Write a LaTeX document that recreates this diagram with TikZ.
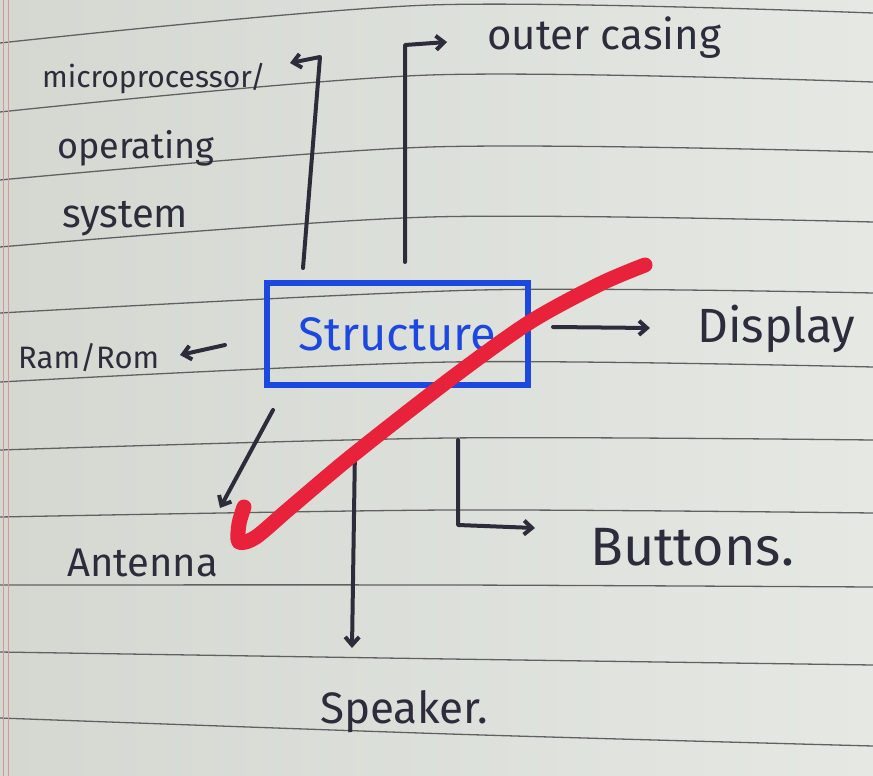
\documentclass[tikz,border=0pt]{standalone}
\usepackage{fontspec}
\setmainfont{Fira Sans}
\usetikzlibrary{arrows.meta,calc}
\definecolor{paperA}{RGB}{212,216,209}
\definecolor{paperB}{RGB}{229,232,227}
\definecolor{ruling}{RGB}{96,98,96}
\definecolor{marginred}{RGB}{214,150,160}
\definecolor{ink}{RGB}{44,44,60}
\definecolor{penblue}{RGB}{28,72,224}
\definecolor{tickred}{RGB}{232,34,58}
\newcommand{\hand}[1]{\fontsize{#1}{#1}\selectfont}
\tikzset{
  ruled/.style={draw=ruling, line width=1.3pt},
  inkline/.style={draw=ink, line width=4pt, line cap=round, line join=round},
  inkarrow/.style={inkline, -{Straight Barb[length=8pt,width=14pt]}},
  handtext/.style={inner sep=0pt, anchor=base west, text=ink},
  structbox/.style={draw=penblue, line width=6pt, text=penblue, inner sep=0pt, outer sep=0pt,
    minimum width=261pt, minimum height=102pt},
}

\begin{document}
\begin{tikzpicture}[x=1pt, y=-1pt]
		%%%%% START %%%%%
		
		\useasboundingbox (0,0) rectangle (873,776);
		\shade[left color=paperA, right color=paperB] (0,0) rectangle (873,776);
		
		% ruled paper
		\draw[ruled] plot[smooth] coordinates {(0,43) (430,5) (873,13)};
		\draw[ruled] plot[smooth] coordinates {(0,112) (430,75) (873,82)};
		\draw[ruled] plot[smooth] coordinates {(0,180) (430,147) (873,152)};
		\draw[ruled] plot[smooth] coordinates {(0,247) (430,217) (873,222)};
		\draw[ruled] plot[smooth] coordinates {(0,313) (480,290) (873,293)};
		\draw[ruled] plot[smooth] coordinates {(0,382) (450,362) (873,367)};
		\draw[ruled] plot[smooth] coordinates {(0,450) (450,438) (873,440)};
		\draw[ruled] plot[smooth] coordinates {(0,517) (450,510) (873,513)};
		\draw[ruled] plot[smooth] coordinates {(0,585) (450,585) (873,587)};
		\draw[ruled] plot[smooth] coordinates {(0,652) (450,659) (873,665)};
		\draw[ruled] plot[smooth] coordinates {(0,718) (450,734) (873,746)};
		\draw[marginred, line width=1pt] (3,0) -- (3,776);
		\draw[marginred, line width=1pt] (8,0) -- (8,776);
		
		% centre box
		\node[structbox, font=\hand{47}] (struct) at (397.5,334) {Structure};
		
		% labels
		\node[handtext, font=\hand{30}] (micro) at (42,88) {microprocessor/};
		\node[handtext, font=\hand{36}] (operating) at (57,158) {operating};
		\node[handtext, font=\hand{40}] (system) at (62,227) {system};
		\node[handtext, font=\hand{42}] (casing) at (487,50) {outer casing};
		\node[handtext, font=\hand{31}] (ramrom) at (18,368) {Ram/Rom};
		\node[handtext, font=\hand{48}] (display) at (697,342) {Display};
		\node[handtext, font=\hand{40}] (antenna) at (67,576) {Antenna};
		\node[handtext, font=\hand{54}] (buttons) at (590,565) {Buttons.};
		\node[handtext, font=\hand{44}] (speaker) at (320,723) {Speaker.};
		
		% free ends of the connectors
		\coordinate (microbend) at (320,57);
		\coordinate (microtip) at (290,63);
		\coordinate (casingbend) at (405,45);
		\coordinate (casingtip) at (447,42);
		\coordinate (ramtip) at (180,355);
		\coordinate (displaytip) at (650,328);
		\coordinate (antennatip) at (220,508);
		\coordinate (speakertip) at (352,648);
		\coordinate (buttonsbend) at (458,525);
		\coordinate (buttonstip) at (535,528);
		
		\draw[inkarrow] ($(struct.north west)+(36,-15)$) -- (microbend) -- (microtip);
		\draw[inkarrow] ($(struct.north west)+(138,-21)$) -- (casingbend) -- (casingtip);
		\draw[inkarrow] ($(struct.west)+(-42,11)$) -- (ramtip);
		\draw[inkarrow] ($(struct.east)+(25,-7)$) -- (displaytip);
		\draw[inkarrow] ($(struct.south west)+(6,25)$) -- (antennatip);
		\draw[inkarrow] ($(struct.south west)+(88,63)$) -- (speakertip);
		\draw[inkarrow] ($(struct.south west)+(191,55)$) -- (buttonsbend) -- (buttonstip);
		
		% red tick
		\draw[tickred, line width=15pt, line cap=round, line join=round]
			plot[smooth, tension=0.5] coordinates {(645,265) (600,284) (530,322) (453,377) (353,455) (290,508) (256,537) (239,542) (239,524) (244,507)};
		
		%%%%% END %%%%%
	\end{tikzpicture}
\end{document}
